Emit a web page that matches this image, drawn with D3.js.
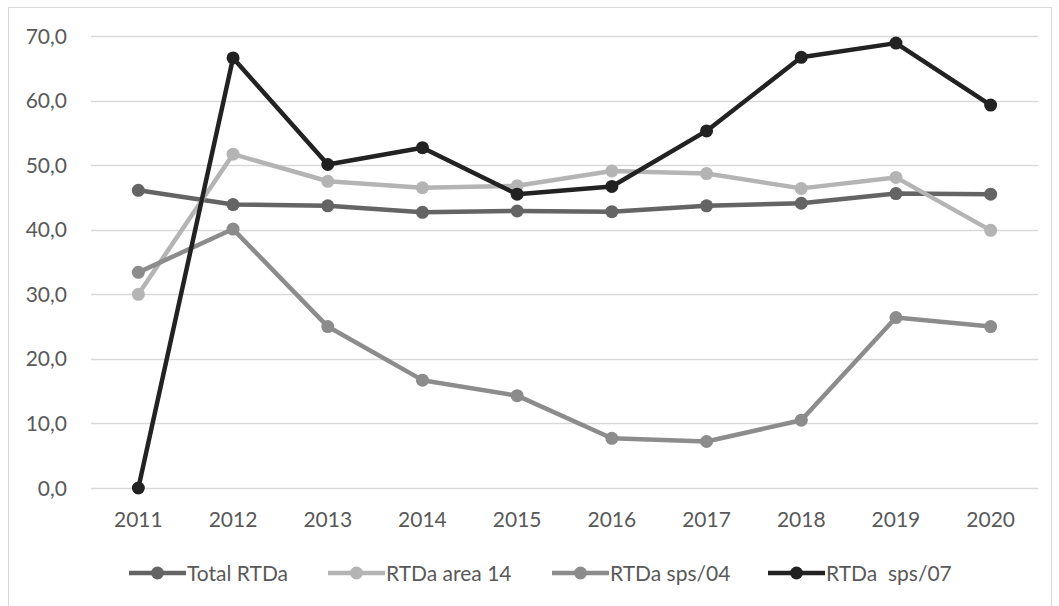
<!DOCTYPE html>
<html>
<head>
<meta charset="utf-8">
<script src="https://cdn.jsdelivr.net/npm/d3@7"></script>
<style>
  body { margin: 0; background: #fff; }
  svg text { font-family: Lato, "Open Sans", sans-serif; fill: #595959; }
</style>
</head>
<body>
<svg id="chart"></svg>
<script>
// years on the x axis
const years = ['2011', '2012', '2013', '2014', '2015', '2016', '2017', '2018', '2019', '2020'];

// series values
const totalRtda = [46.1, 43.9, 43.7, 42.7, 42.9, 42.8, 43.7, 44.1, 45.6, 45.5];
const area14 = [30.0, 51.7, 47.5, 46.5, 46.8, 49.1, 48.7, 46.4, 48.1, 39.9];
const sps04 = [33.4, 40.1, 25.0, 16.7, 14.3, 7.7, 7.2, 10.5, 26.4, 25.0];
const sps07 = [0.0, 66.6, 50.1, 52.7, 45.5, 46.7, 55.3, 66.7, 68.9, 59.3];

const seriesNames = ['Total RTDa', 'RTDa area 14', 'RTDa sps/04', 'RTDa  sps/07'];
const yTicks = [0, 10, 20, 30, 40, 50, 60, 70];

const seriesColors = ['#646464', '#b4b4b4', '#8c8c8c', '#222222'];
const seriesData = [totalRtda, area14, sps04, sps07];

const W = 1059, H = 606;
const svg = d3.select('#chart').attr('width', W).attr('height', H);

// outer chart border
svg.append('rect')
  .attr('x', 8.5).attr('y', 7.5)
  .attr('width', W - 16).attr('height', H)
  .attr('fill', 'none').attr('stroke', '#d9d9d9').attr('stroke-width', 1);

const x = d3.scaleBand().domain(years).range([91, 1038]);
const y = d3.scaleLinear().domain([0, 70]).range([488, 36]);

// gridlines
svg.append('g')
  .selectAll('line')
  .data(yTicks)
  .join('line')
  .attr('x1', 91).attr('x2', 1038)
  .attr('y1', d => Math.round(y(d)) + 0.5).attr('y2', d => Math.round(y(d)) + 0.5)
  .attr('stroke', '#d9d9d9').attr('stroke-width', 1.5);

// y labels
svg.append('g')
  .selectAll('text')
  .data(yTicks)
  .join('text')
  .attr('x', 67).attr('y', d => y(d))
  .attr('dy', '0.36em')
  .attr('text-anchor', 'end')
  .style('font-size', '21px')
  .text(d => d3.format('.1f')(d).replace('.', ','));

// x labels
svg.append('g')
  .selectAll('text')
  .data(years)
  .join('text')
  .attr('x', d => x(d) + x.bandwidth() / 2).attr('y', 527)
  .attr('text-anchor', 'middle')
  .style('font-size', '21px')
  .text(d => d);

const line = d3.line()
  .x((d, i) => x(years[i]) + x.bandwidth() / 2)
  .y(d => y(d));

seriesData.forEach((vals, s) => {
  const g = svg.append('g');
  g.append('path')
    .attr('d', line(vals))
    .attr('fill', 'none')
    .attr('stroke', seriesColors[s])
    .attr('stroke-width', 4.5)
    .attr('stroke-linejoin', 'round');
  g.selectAll('circle')
    .data(vals)
    .join('circle')
    .attr('cx', (d, i) => x(years[i]) + x.bandwidth() / 2)
    .attr('cy', d => y(d))
    .attr('r', 6.5)
    .attr('fill', seriesColors[s]);
});

// legend
const legendX = [129, 328, 552, 768];
const legend = svg.append('g')
  .selectAll('g')
  .data(seriesNames)
  .join('g')
  .attr('transform', (d, i) => `translate(${legendX[i]},573)`);

legend.append('line')
  .attr('x1', 0).attr('x2', 57)
  .attr('stroke', (d, i) => seriesColors[i])
  .attr('stroke-width', 4.5);
legend.append('circle')
  .attr('cx', 28.5).attr('r', 6.5)
  .attr('fill', (d, i) => seriesColors[i]);
legend.append('text')
  .attr('x', 58).attr('dy', '0.36em')
  .style('font-size', '21px')
  .style('white-space', 'pre')
  .text(d => d);
</script>
</body>
</html>
